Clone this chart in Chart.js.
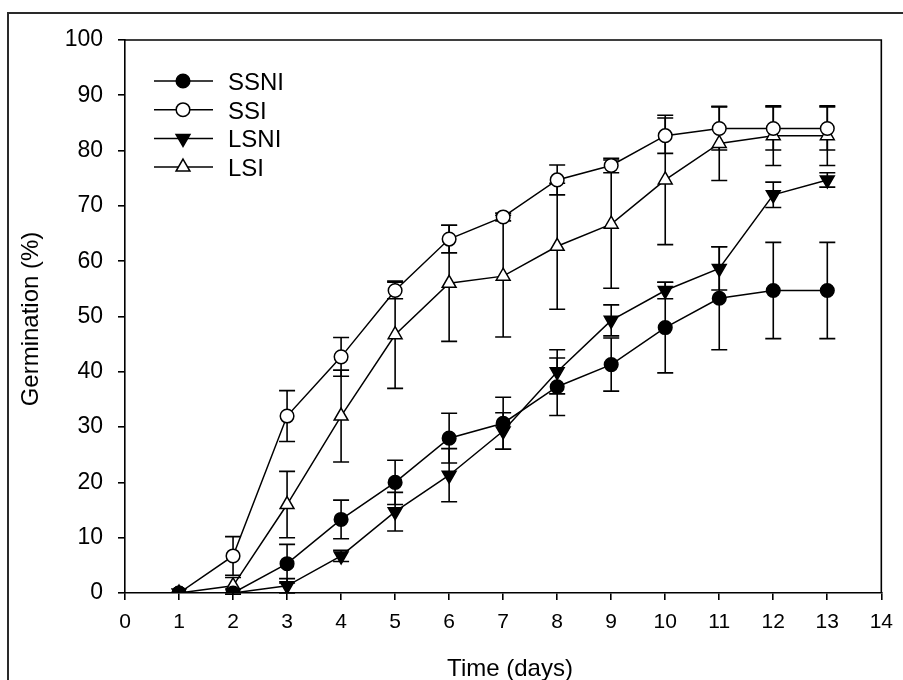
<!DOCTYPE html>
<html>
<head>
<meta charset="utf-8">
<script src="https://cdn.jsdelivr.net/npm/chart.js@4.4.1/dist/chart.umd.min.js"></script>
<style>
  body { margin: 0; background: #fff; }
  #wrap { position: relative; width: 903px; height: 680px; overflow: hidden; }
  #frame { position: absolute; left: 7px; top: 12px; width: 910px; height: 700px; border: 2.5px solid #2a2a2a; box-sizing: border-box; }
  canvas { position: absolute; left: 0; top: 0; }
</style>
</head>
<body>
<div id="wrap">
  <div id="frame"></div>
  <canvas id="chart" width="903" height="680"></canvas>
</div>
<script>
const days = [1, 2, 3, 4, 5, 6, 7, 8, 9, 10, 11, 12, 13];

const ssni    = [0, 0, 5.3, 13.3, 20, 28, 30.7, 37.3, 41.3, 48, 53.3, 54.7, 54.7];
const ssniErr = [0, 0, 3.5, 3.5, 4, 4.5, 4.7, 5.2, 4.8, 8.2, 9.3, 8.7, 8.7];

const ssi     = [0, 6.7, 32, 42.7, 54.7, 64, 68, 74.7, 77.3, 82.7, 84, 84, 84];
const ssiErr  = [0, 3.5, 4.6, 3.5, 1.5, 2.5, 0.7, 2.7, 1.3, 3.2, 3.9, 3.9, 3.9];

const lsni    = [0, 0, 1.3, 6.7, 14.7, 21.3, 29.3, 40, 49.3, 54.7, 58.7, 72, 74.7];
const lsniErr = [0, 0, 1.3, 1, 3.5, 4.8, 3.3, 4, 2.8, 1.5, 3.9, 2.3, 1.3];

const lsi     = [0, 1.3, 16, 32, 46.7, 56, 57.3, 62.7, 66.7, 74.7, 81.3, 82.7, 82.7];
const lsiErr  = [0, 1.5, 6, 8.3, 9.7, 10.5, 11, 11.4, 11.6, 11.7, 6.7, 5.4, 5.4];

const seriesNames = ['SSNI', 'SSI', 'LSNI', 'LSI'];

const font = '"Liberation Sans", Arial, sans-serif';

function pts(vals) {
    return days.map((d, i) => ({ x: d, y: vals[i] }));
}

function makeSet(label, vals, errs, style, rotation, fill) {
    return {
        label: label,
        data: pts(vals),
        errors: errs,
        borderColor: '#000',
        borderWidth: 1.5,
        pointStyle: style,
        rotation: rotation,
        pointRadius: style === 'circle' ? 6.8 : 8,
        pointBorderWidth: 1.5,
        pointBorderColor: '#000',
        pointBackgroundColor: fill,
        tension: 0,
        fill: false
    };
}

const errorBars = {
    id: 'errorBars',
    beforeDatasetsDraw(chart) {
        const ctx = chart.ctx;
        const xs = chart.scales.x, ys = chart.scales.y;
        ctx.save();
        ctx.strokeStyle = '#000';
        ctx.lineWidth = 1.6;
        chart.data.datasets.forEach(ds => {
            ds.data.forEach((p, i) => {
                const e = ds.errors[i];
                if (!e) return;
                const x = xs.getPixelForValue(p.x);
                const t = ys.getPixelForValue(p.y + e);
                const b = ys.getPixelForValue(p.y - e);
                ctx.beginPath();
                ctx.moveTo(x, t); ctx.lineTo(x, b);
                ctx.moveTo(x - 8, t); ctx.lineTo(x + 8, t);
                ctx.moveTo(x - 8, b); ctx.lineTo(x + 8, b);
                ctx.stroke();
            });
        });
        ctx.restore();
    }
};

const frameAndText = {
    id: 'frameAndText',
    afterDraw(chart) {
        const ctx = chart.ctx;
        const a = chart.chartArea;
        ctx.save();
        ctx.strokeStyle = '#000';
        ctx.lineWidth = 1.6;
        ctx.beginPath();
        ctx.moveTo(a.left, a.top); ctx.lineTo(a.right, a.top); ctx.lineTo(a.right, a.bottom);
        ctx.stroke();

        // axis titles
        ctx.fillStyle = '#000';
        ctx.font = '24px ' + font;
        ctx.textAlign = 'center';
        ctx.textBaseline = 'alphabetic';
        ctx.fillText('Time (days)', 510, 676);
        ctx.translate(38, 319);
        ctx.rotate(-Math.PI / 2);
        ctx.fillText('Germination (%)', 0, 0);
        ctx.restore();

        // legend
        ctx.save();
        chart.data.datasets.forEach((ds, i) => {
            const y = 81 + i * 28.7;
            ctx.strokeStyle = '#000';
            ctx.lineWidth = 1.5;
            ctx.beginPath();
            ctx.moveTo(154, y); ctx.lineTo(213, y);
            ctx.stroke();
            ctx.fillStyle = ds.pointBackgroundColor;
            Chart.helpers.drawPoint(ctx, {
                pointStyle: ds.pointStyle,
                rotation: ds.rotation,
                radius: ds.pointRadius,
                borderWidth: 1.5
            }, 183, y);
            ctx.fillStyle = '#000';
            ctx.font = '24px ' + font;
            ctx.textAlign = 'left';
            ctx.textBaseline = 'alphabetic';
            ctx.fillText(ds.label, 228, y + 9);
        });
        ctx.restore();
    }
};

new Chart(document.getElementById('chart'), {
    type: 'line',
    data: {
        datasets: [
            makeSet(seriesNames[0], ssni, ssniErr, 'circle', 0, '#000'),
            makeSet(seriesNames[1], ssi, ssiErr, 'circle', 0, '#fff'),
            makeSet(seriesNames[2], lsni, lsniErr, 'triangle', 180, '#000'),
            makeSet(seriesNames[3], lsi, lsiErr, 'triangle', 0, '#fff')
        ]
    },
    options: {
        responsive: false,
        devicePixelRatio: 1,
        animation: false,
        layout: { padding: { top: 40, right: 12, left: 3, bottom: 0 } },
        plugins: {
            legend: { display: false },
            tooltip: { enabled: false }
        },
        scales: {
            x: {
                type: 'linear',
                min: 0,
                max: 14,
                afterFit(s) { s.height = 87; },
                ticks: { stepSize: 1, color: '#000', font: { family: font, size: 21 }, padding: 10, maxRotation: 0 },
                grid: { drawOnChartArea: false, drawTicks: true, tickLength: 7, color: '#000', lineWidth: 1.6 },
                border: { display: true, color: '#000', width: 1.6 }
            },
            y: {
                min: 0,
                max: 100,
                afterFit(s) { s.width = 122; },
                ticks: { stepSize: 10, color: '#000', font: { family: font, size: 23 }, padding: 15 },
                grid: { drawOnChartArea: false, drawTicks: true, tickLength: 7, color: '#000', lineWidth: 1.6 },
                border: { display: true, color: '#000', width: 1.6 }
            }
        }
    },
    plugins: [errorBars, frameAndText]
});
</script>
</body>
</html>
